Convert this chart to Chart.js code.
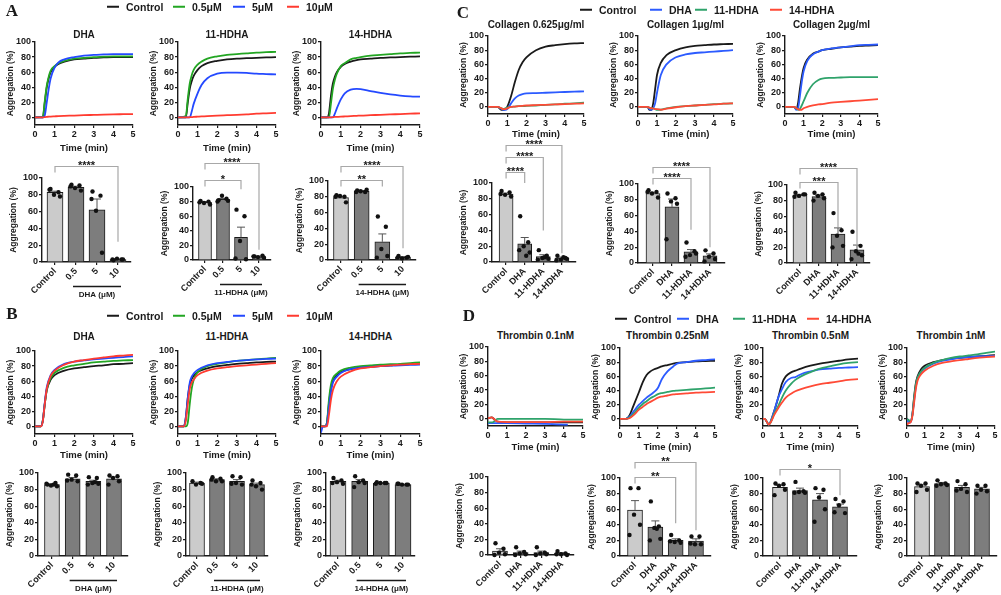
<!DOCTYPE html>
<html>
<head>
<meta charset="utf-8">
<title>Platelet aggregation</title>
<script src="https://cdn.jsdelivr.net/npm/chart.js@4.4.1/dist/chart.umd.min.js"></script>
<style>
  html, body { margin: 0; padding: 0; background: #fff; }
  #fig { position: relative; width: 1001px; height: 595px; overflow: hidden;
         font-family: Arial, "Liberation Sans", Helvetica, sans-serif; font-weight: bold; color: #1a1a1a; }
  #fig canvas { position: absolute; }
  .panel { position: absolute; font-family: "Times New Roman", "Liberation Serif", serif; font-size: 17px;
           line-height: 1; transform: translate(-50%, -50%); }
  .title { position: absolute; font-size: 10px; white-space: nowrap; line-height: 1; transform: translate(-50%, -50%); }
  .key { position: absolute; font-size: 10.5px; white-space: nowrap; line-height: 1; transform: translateY(-50%);
         display: flex; align-items: center; }
  .key i { display: inline-block; width: 12px; height: 2px; margin-right: 7px; }
</style>
</head>
<body>
<div id="fig"></div>
<script>
// ---------- ticks and categories ----------
const yTicks = [0, 20, 40, 60, 80, 100];
const timeTicks = [0, 1, 2, 3, 4, 5];
const doseCats = ['Control', '0.5', '5', '10'];
const drugCats = ['Control', 'DHA', '11-HDHA', '14-HDHA'];
const doseNames = ['Control', '0.5μM', '5μM', '10μM'];
const drugNames = ['Control', 'DHA', '11-HDHA', '14-HDHA'];

// ---------- A: traces ----------
const a1Time = [0, 0.4, 0.5, 0.6, 0.7, 0.8, 1, 1.2, 1.5, 2, 2.5, 3, 3.5, 4, 4.5, 5];
const a1Control = [0, 0, 20, 40, 52, 60, 67, 71, 74, 77, 78, 79, 79.5, 80, 80, 80];
const a1Low = [0, 1, 22, 42, 54, 62, 68, 72, 75, 78, 79, 80, 80.5, 81, 81, 81];
const a1Mid = [0, 0, 3, 20, 38, 52, 66, 73, 77, 80, 82, 83, 83.5, 84, 84, 84];
const a1High = [0, 0, 0.5, 0.8, 1, 1.2, 1.5, 1.8, 2.1, 2.5, 3, 3.4, 3.8, 4.1, 4.3, 4.5];

const a2Time = [0, 0.4, 0.5, 0.6, 0.7, 0.8, 1, 1.2, 1.5, 2, 2.5, 3, 3.5, 4, 4.5, 5];
const a2Control = [0, 0, 20, 38, 48, 55, 63, 68, 72, 75, 77, 78, 78.5, 79, 79.5, 80];
const a2Low = [0, 2, 25, 45, 56, 63, 70, 74, 78, 81, 83, 84, 85, 86, 86.5, 87];
const a2Mid = [0, 0, 0, 0, 8, 18, 32, 43, 52, 58, 59.5, 59.5, 59, 58, 57.5, 57];
const a2High = [0, 0, 0, 0.3, 0.5, 0.7, 1, 1.3, 1.8, 2.5, 3, 3.5, 4.2, 5, 5.5, 6];

const a3Time = [0, 0.3, 0.4, 0.5, 0.6, 0.7, 0.8, 1, 1.2, 1.5, 1.8, 2, 2.5, 3, 3.5, 4, 4.5, 5];
const a3Control = [0, 0, 5, 28, 45, 54, 60, 67, 71, 74, 76, 77, 78, 79, 79.5, 80, 80.5, 81];
const a3Low = [0, 0, 0, 18, 38, 50, 58, 68, 72, 77, 79, 80, 82, 83, 84, 85, 85.5, 86];
const a3Mid = [0, 0, 0, 0, 0, 5, 12, 24, 32, 37, 38, 37.5, 35, 32.5, 30.5, 29, 28, 27.5];
const a3High = [0, 0, 0, 0, 0.5, 0.7, 0.8, 1, 1.3, 1.8, 2.2, 2.5, 3, 3.5, 4, 4.5, 5, 5.5];

// ---------- A: bars ----------
const a1bMean = [83, 89, 62, 3];
const a1bSem = [1.3, 1.2, 13, 0.4];
const a1bDots = [[87, 83, 80, 78, 86], [92, 91, 88, 85, 90], [84, 79, 61, 11, 75], [2, 3, 4, 3, 3]];
const a1bSig = [[0, 3, '****']];

const a2bMean = [79, 83, 31, 4.5];
const a2bSem = [1, 1.3, 14, 0.6];
const a2bDots = [[81, 80, 78, 76, 79], [82, 84, 88, 81, 80], [69, 60, 26, 1, 2], [5, 6, 4, 3, 5]];
const a2bSig = [[0, 2, '*'], [0, 3, '****']];

const a3bMean = [79, 87, 23, 3.5];
const a3bSem = [1.5, 0.9, 10, 0.7];
const a3bDots = [[82, 80, 81, 73, 80], [88, 86, 87, 89, 86], [55, 42, 14, 5, 3], [5, 3, 2, 4, 3]];
const a3bSig = [[0, 2, '**'], [0, 3, '****']];

// ---------- B: traces ----------
const b1Time = [0, 0.3, 0.4, 0.5, 0.6, 0.8, 1, 1.5, 2, 2.5, 3, 3.5, 4, 4.5, 5];
const b1Control = [0, 0, 8, 30, 48, 62, 68, 74, 77, 78.5, 80, 81, 82.5, 83, 84];
const b1Low = [0, 0, 8, 30, 49, 64, 71, 78, 81, 83, 85, 86, 87, 87.5, 88];
const b1Mid = [0, 0, 8, 32, 52, 68, 75, 83, 86, 87.5, 89, 90, 91, 92, 93];
const b1High = [0, 0, 7, 30, 50, 67, 74, 82, 86, 88, 90, 91.5, 93, 94, 95];

const b2Time = [0, 0.3, 0.4, 0.5, 0.6, 0.7, 0.8, 1, 1.5, 2, 2.5, 3, 3.5, 4, 4.5, 5];
const b2Control = [0, 0, 12, 38, 55, 63, 67, 72, 77, 80, 81.5, 83, 84, 85, 85.5, 86];
const b2Low = [0, 0, 0, 5, 30, 50, 62, 72, 80, 83, 85, 87, 88, 89, 90, 91];
const b2Mid = [0, 0, 12, 38, 58, 66, 70, 75, 81, 84, 85.5, 87, 88, 89, 89.5, 90];
const b2High = [0, 0, 8, 30, 50, 58, 62, 68, 74, 77, 78.5, 80, 81, 82, 83, 84];

const b3Time = [0, 0.1, 0.2, 0.3, 0.4, 0.5, 0.6, 0.8, 1, 1.5, 2, 2.5, 3, 3.5, 4, 4.5, 5];
const b3Control = [0, 0, 0, 5, 30, 50, 60, 68, 72, 76, 78, 79, 80, 81, 82, 82.5, 83];
const b3Low = [0, 0, 0, 5, 35, 55, 64, 70, 74, 78, 80, 81, 82, 82.5, 83, 84, 85];
const b3Mid = [-8, 0, 0, 3, 25, 45, 58, 66, 71, 76, 78, 79, 80, 80.5, 81, 81.5, 82];
const b3High = [0, 0, 0, 0, 15, 35, 48, 60, 66, 73, 77, 78.5, 80, 81, 82, 82.5, 83];

// ---------- B: bars ----------
const b1bMean = [86, 93, 90, 93];
const b1bSem = [0.7, 1.6, 1.3, 2];
const b1bDots = [[86, 88, 85, 84, 87, 86], [98, 97, 92, 90, 91], [95, 94, 88, 87, 86, 89], [97, 96, 94, 90, 86]];

const b2bMean = [88, 92, 90, 86];
const b2bSem = [1, 1, 2, 1.8];
const b2bDots = [[90, 88, 86, 87], [95, 93, 90, 90, 92], [96, 95, 88, 86, 87], [91, 88, 84, 80, 86]];

const b3bMean = [90, 90, 88, 86];
const b3bSem = [1.3, 2, 0.4, 0.3];
const b3bDots = [[94, 91, 89, 87, 88], [96, 91, 89, 88, 83], [89, 88, 88, 88, 87], [87, 86, 86, 86, 87]];

// ---------- C: traces ----------
const c1Time = [0, 0.5, 0.7, 0.8, 0.9, 1, 1.2, 1.4, 1.6, 1.8, 2, 2.5, 3, 3.5, 4, 4.5, 5];
const c1Control = [0, 0, -4, -4, -3, 0, 15, 35, 52, 63, 70, 80, 85, 87, 88.5, 89.5, 90];
const c1Dha = [0, 0, -3, -4, -4, -3, 5, 12, 16, 18, 19, 19.5, 20, 20.5, 21, 21.5, 22];
const c1Hdha11 = [0, 0, -2, -3, -2, -1, 0, 0.5, 1, 1, 1.5, 2, 3, 3.5, 4.5, 5, 6];
const c1Hdha14 = [0, 0, -2, -3, -3, -2, 0, 0.5, 1, 1.5, 2, 2.5, 3, 3.5, 4, 4.5, 5];

const c2Time = [0, 0.5, 0.6, 0.7, 0.8, 0.9, 1, 1.2, 1.5, 2, 2.5, 3, 3.5, 4, 4.5, 5];
const c2Control = [0, 0, -4, -4, 5, 25, 45, 62, 73, 80, 84, 86, 87, 88, 88.5, 89];
const c2Dha = [0, 0, -3, -4, -2, 5, 20, 45, 60, 70, 74, 76, 77, 78, 79, 80];
const c2Hdha11 = [0, 0, -1, -2, -2, -3, -4, -4, -2, 0, 1, 2, 3, 4, 4.5, 5];
const c2Hdha14 = [0, 0, -1, -2, -2, -3, -3, -4, -2.5, -0.5, 1, 2, 3, 3.5, 4.5, 5];

const c3Time = [0, 0.5, 0.6, 0.7, 0.8, 0.9, 1, 1.2, 1.5, 1.8, 2, 2.5, 3, 3.5, 4, 4.5, 5];
const c3Control = [0, 0, -3, 5, 25, 42, 55, 67, 75, 78, 80, 82, 84, 85, 86, 86.5, 87];
const c3Dha = [0, 0, -4, -2, 15, 35, 50, 65, 74, 78, 80, 82.5, 84, 85.5, 87, 87.5, 88];
const c3Hdha11 = [0, 0, -2, -4, -3, 2, 8, 20, 32, 38, 40, 41, 41.5, 42, 42, 42, 42];
const c3Hdha14 = [0, 0, -2, -3, -4, -4, -2, 0, 2, 3.5, 4, 6, 7, 8, 9, 10, 11];

// ---------- C: bars ----------
const c1bMean = [86, 23, 7, 5];
const c1bSem = [1.3, 8, 2.2, 1.2];
const c1bDots = [[90, 88, 85, 83, 86], [58, 25, 20, 12, 15, 8], [15, 8, 5, 4, 3, 6], [8, 5, 3, 4, 2, 6]];
const c1bSig = [[0, 1, '****'], [0, 2, '****'], [0, 3, '****']];

const c2bMean = [88, 71, 14, 9];
const c2bSem = [1.5, 10, 3, 2.5];
const c2bDots = [[92, 90, 88, 83, 90], [88, 82, 78, 75, 30], [26, 15, 10, 12, 8], [16, 12, 8, 5, 2]];
const c2bSig = [[0, 2, '****'], [0, 3, '****']];

const c3bMean = [87, 85, 37, 17];
const c3bSem = [1, 1.8, 8, 6];
const c3bDots = [[90, 88, 86, 88, 85], [90, 88, 86, 83, 80], [64, 42, 35, 22, 20], [40, 22, 15, 10, 5, 12]];
const c3bSig = [[0, 2, '***'], [0, 3, '****']];

// ---------- D: traces ----------
const d1Time = [0, 0.2, 0.3, 0.5, 1, 2, 3, 4, 4.2, 5];
const d1Control = [1, 2, 0, -4, -5, -5, -5, -5, -5, -5];
const d1Dha = [-6, -6, -6, -6, -6, -6.5, -7, -8, -8, null];
const d1Hdha11 = [-5, -5, -4, 0, 0, 0, 0, -1, -1, -1];
const d1Hdha14 = [1, 2, 0, -4, -4.5, -4.5, -4.5, -4, -4, -4];

const d2Time = [0, 0.3, 0.5, 0.7, 1, 1.2, 1.4, 1.6, 1.8, 2, 2.2, 2.5, 2.8, 3, 3.5, 4, 4.5, 5];
const d2Control = [0, 0, 5, 18, 38, 52, 62, 67, 70, 72, 74, 76, 78, 79, 80, 81, 81.5, 82];
const d2Dha = [0, 0, 3, 10, 20, 25, 30, 34, 38, 44, 56, 67, 74, 78, 80, 82, 83, 84];
const d2Hdha11 = [0, 0, 2, 7, 16, 21, 25, 29, 32, 35, 36.5, 38, 39.5, 40, 41, 42, 43, 44];
const d2Hdha14 = [0, 0, 1, 5, 13, 17, 21, 24, 27, 30, 31.5, 33, 34.5, 35, 36, 37, 37.5, 38];

const d3Time = [0, 0.1, 0.2, 0.3, 0.4, 0.6, 0.8, 1, 1.2, 1.5, 1.7, 2, 2.5, 3, 3.5, 4, 4.5, 5];
const d3Control = [0, 0, -4, -8, -4, 12, 30, 50, 60, 66, 68, 71, 75, 78, 80, 82, 84, 85];
const d3Dha = [0, 0, -4, -8, -4, 12, 30, 42, 52, 58, 59, 63, 67, 70, 71, 72, 72.5, 73];
const d3Hdha11 = [0, 0, -4, -8, -5, 8, 18, 30, 40, 50, 55, 60, 66, 71, 74, 77, 79, 80];
const d3Hdha14 = [0, 0, -4, -8, -5, 6, 15, 23, 30, 36, 39, 42, 46, 49, 51, 53, 55, 56];

const d4Time = [0, 0.1, 0.2, 0.3, 0.4, 0.5, 0.6, 0.8, 1, 1.5, 2, 2.5, 3, 3.5, 4, 4.5, 5];
const d4Control = [0, -2, -4, 5, 30, 50, 60, 70, 75, 80, 83, 85, 86, 87, 88, 89, 90];
const d4Dha = [0, -5, -5, 5, 25, 45, 57, 66, 71, 78, 82, 84, 86, 87, 88, 88.5, 89];
const d4Hdha11 = [0, -2, -3, 5, 28, 48, 58, 67, 72, 79, 83, 86, 88, 89.5, 91, 93, 95];
const d4Hdha14 = [-8, -6, -5, 3, 22, 42, 54, 63, 68, 75, 79, 81, 83, 84.5, 86, 87, 88];

// ---------- D: bars ----------
const d1bMean = [5, 3, 3, 2];
const d1bSem = [3, 2, 2, 1];
const d1bDots = [[15, 8, 3, 1, 0], [10, 4, 2, 1, 0], [10, 3, 2, 1, 0], [5, 2, 1, 0, 1]];

const d2bMean = [59, 37, 20, 19];
const d2bSem = [12, 8, 2, 3];
const d2bDots = [[87, 87, 53, 40, 27], [70, 38, 36, 22, 20, 35], [27, 20, 18, 17, 19], [25, 25, 15, 15, 16]];
const d2bSig = [[0, 2, '**'], [0, 3, '**']];

const d3bMean = [88, 84, 72, 63];
const d3bSem = [2.7, 3, 8, 3.5];
const d3bDots = [[93, 92, 90, 85, 78], [95, 83, 82, 81, 81], [87, 85, 75, 60, 44], [73, 70, 65, 55, 56]];
const d3bSig = [[0, 3, '*']];

const d4bMean = [89, 93, 88, 86];
const d4bSem = [2.2, 1.3, 2.5, 2];
const d4bDots = [[93, 93, 90, 85, 82], [97, 93, 92, 91, 90], [96, 92, 86, 82, 84], [90, 90, 85, 83, 80]];

// ---------- styles ----------
const FONT = 'Arial, "Liberation Sans", Helvetica, sans-serif';
const INK = '#1a1a1a';
const doseColors = ['#1a1a1a', '#23a623', '#2449ff', '#ff3b30'];
const drugColors = ['#1a1a1a', '#2c5bff', '#2fa36b', '#ff4a36'];
const lightBar = '#cbcbcb';
const darkBar = '#7d7d7d';
const jitter = [-4.5, 3.5, -1, 5, -5.5, 1.5];

const fig = document.getElementById('fig');

function tickFont(size) {
  return { family: FONT, size: size, weight: 'bold' };
}

function addCanvas(x, y, w, h) {
  const c = document.createElement('canvas');
  c.width = w;
  c.height = h;
  c.style.left = x + 'px';
  c.style.top = y + 'px';
  c.style.width = w + 'px';
  c.style.height = h + 'px';
  fig.appendChild(c);
  return c;
}

function addText(cls, text, x, y) {
  const d = document.createElement('div');
  d.className = cls;
  d.textContent = text;
  d.style.left = x + 'px';
  d.style.top = y + 'px';
  fig.appendChild(d);
}

function addKey(y, xs, names, colors) {
  names.forEach((n, i) => {
    const d = document.createElement('div');
    d.className = 'key';
    d.style.left = xs[i] + 'px';
    d.style.top = y + 'px';
    d.innerHTML = '<i style="background:' + colors[i] + '"></i>' + n;
    fig.appendChild(d);
  });
}

function yAxis(min, padL) {
  return {
    min: min,
    max: 100,
    afterBuildTicks: s => { s.ticks = yTicks.map(v => ({ value: v })); },
    afterFit: s => { s.width = padL; s.paddingTop = 0; s.paddingBottom = 0; },
    grid: { drawOnChartArea: false, tickLength: 3, color: INK, lineWidth: 1.2 },
    border: { color: INK, width: 1.4 },
    ticks: { color: INK, font: tickFont(9), padding: 1 },
    title: { display: true, text: 'Aggregation (%)', color: INK, font: tickFont(8.5), padding: { top: 0, bottom: 0 } }
  };
}

// time-course panel: box = [y-axis x, x=5 x, y of 100, y of 0]
function drawLine(cfg) {
  const [l, r, y100, y0] = cfg.box;
  const unit = (y0 - y100) / 100;
  const PL = 29, PR = 6, PT = 6, PB = cfg.pb;
  const plotH = Math.round(unit * 110);
  const cv = addCanvas(l - PL, y100 - PT, r - l + PL + PR, plotH + PT + PB);
  new Chart(cv, {
    type: 'line',
    data: {
      datasets: cfg.series.map((vals, i) => ({
        data: cfg.time.map((t, k) => ({ x: t, y: vals[k] })).filter(p => p.y !== null),
        borderColor: cfg.colors[i],
        borderWidth: 1.8,
        pointRadius: 0,
        cubicInterpolationMode: 'monotone',
        fill: false,
        order: cfg.series.length - i
      }))
    },
    options: {
      responsive: false,
      animation: false,
      events: [],
      layout: { padding: { top: PT, right: PR, left: 0, bottom: 0 } },
      plugins: { legend: { display: false }, tooltip: { enabled: false } },
      scales: {
        x: {
          type: 'linear',
          min: 0,
          max: 5,
          afterBuildTicks: s => { s.ticks = timeTicks.map(v => ({ value: v })); },
          afterFit: s => { s.height = PB; s.paddingLeft = 0; s.paddingRight = 0; },
          grid: { drawOnChartArea: false, tickLength: 3, color: INK, lineWidth: 1.2 },
          border: { color: INK, width: 1.4 },
          ticks: { color: INK, font: tickFont(9), padding: 1, maxRotation: 0, autoSkip: false },
          title: { display: true, text: 'Time (min)', color: INK, font: tickFont(9.5), padding: 0 }
        },
        y: yAxis(-10, PL)
      }
    }
  });
  addText('title', cfg.title, (l + r) / 2, cfg.ty);
}

// mean ± SEM bars: box = [y-axis x, first bar x, bar spacing, y of 100, y of 0]
function drawBars(cfg) {
  const [ax, c0, step, y100, y0] = cfg.box;
  const gap = (c0 - ax) / step;
  const PL = 33, PR = 8, PT = 60, PB = 46;
  const w = Math.round((3 + 2 * gap) * step);
  const cv = addCanvas(ax - PL, y100 - PT, w + PL + PR, (y0 - y100) + PT + PB);
  const barW = Math.round(step * 0.74);
  const sig = cfg.sig || [];

  const deco = {
    id: 'deco',
    afterDatasetsDraw(chart) {
      const xs = chart.scales.x, ys = chart.scales.y, ctx = chart.ctx;
      ctx.save();
      cfg.mean.forEach((m, i) => {
        const x = xs.getPixelForValue(i);
        const base = ys.getPixelForValue(m);
        const top = ys.getPixelForValue(m + cfg.sem[i]);
        ctx.strokeStyle = '#555';
        ctx.lineWidth = 1;
        ctx.beginPath();
        ctx.moveTo(x, base);
        ctx.lineTo(x, top);
        ctx.moveTo(x - 4, top);
        ctx.lineTo(x + 4, top);
        ctx.stroke();
        ctx.fillStyle = '#111';
        cfg.dots[i].forEach((v, k) => {
          ctx.beginPath();
          ctx.arc(x + jitter[k], ys.getPixelForValue(v), 2.2, 0, Math.PI * 2);
          ctx.fill();
        });
      });
      ctx.restore();
    },
    afterDraw(chart) {
      const xs = chart.scales.x, ys = chart.scales.y, ctx = chart.ctx;
      ctx.save();
      // significance brackets
      sig.forEach(([a, b, stars], n) => {
        const [level, legEnd] = cfg.brk[n];
        const x1 = xs.getPixelForValue(a), x2 = xs.getPixelForValue(b);
        const yl = Math.round(ys.getPixelForValue(level)) + 0.5;
        ctx.strokeStyle = '#a8a8a8';
        ctx.lineWidth = 1.2;
        ctx.beginPath();
        ctx.moveTo(x1, yl + 6);
        ctx.lineTo(x1, yl);
        ctx.lineTo(x2, yl);
        ctx.lineTo(x2, ys.getPixelForValue(legEnd));
        ctx.stroke();
        ctx.fillStyle = INK;
        ctx.font = 'bold 11px ' + FONT;
        ctx.textAlign = 'center';
        ctx.textBaseline = 'alphabetic';
        ctx.fillText(stars, (x1 + x2) / 2, yl + 2);
      });
      // dose group underline
      if (cfg.group) {
        const xa = xs.getPixelForValue(1) - 3, xb = xs.getPixelForValue(3) + 3;
        const yb = Math.round(ys.getPixelForValue(0)) + 24.5;
        ctx.strokeStyle = INK;
        ctx.lineWidth = 1.3;
        ctx.beginPath();
        ctx.moveTo(xa, yb);
        ctx.lineTo(xb, yb);
        ctx.stroke();
        ctx.fillStyle = INK;
        ctx.font = 'bold 8px ' + FONT;
        ctx.textAlign = 'center';
        ctx.textBaseline = 'middle';
        ctx.fillText(cfg.group, (xa + xb) / 2, yb + 8);
      }
      ctx.restore();
    }
  };

  new Chart(cv, {
    type: 'bar',
    data: {
      datasets: [{
        data: cfg.mean.map((m, i) => ({ x: i, y: m })),
        backgroundColor: cfg.mean.map((m, i) => (i === 0 ? lightBar : darkBar)),
        borderColor: INK,
        borderWidth: 1,
        barThickness: barW
      }]
    },
    options: {
      responsive: false,
      animation: false,
      events: [],
      layout: { padding: { top: PT, right: PR, left: 0, bottom: 0 } },
      plugins: { legend: { display: false }, tooltip: { enabled: false } },
      scales: {
        x: {
          type: 'linear',
          offset: false,
          min: -gap,
          max: 3 + gap,
          afterBuildTicks: s => { s.ticks = cfg.cats.map((c, i) => ({ value: i })); },
          afterFit: s => { s.height = PB; s.paddingLeft = 0; s.paddingRight = 0; },
          grid: { offset: false, drawOnChartArea: false, tickLength: 3, color: INK, lineWidth: 1.2 },
          border: { color: INK, width: 1.4 },
          ticks: { color: INK, font: tickFont(9), padding: 1, minRotation: 45, maxRotation: 45, autoSkip: false,
                   callback: v => cfg.cats[v] }
        },
        y: yAxis(0, PL)
      }
    },
    plugins: [deco]
  });
}

// ---------- layout ----------
const lineCharts = [
  { title: 'DHA', ty: 35, pb: 29, box: [35, 133, 42, 117], time: a1Time, series: [a1Control, a1Low, a1Mid, a1High], colors: doseColors },
  { title: '11-HDHA', ty: 35, pb: 29, box: [178, 276, 42, 117], time: a2Time, series: [a2Control, a2Low, a2Mid, a2High], colors: doseColors },
  { title: '14-HDHA', ty: 35, pb: 29, box: [321, 420, 42, 117], time: a3Time, series: [a3Control, a3Low, a3Mid, a3High], colors: doseColors },
  { title: 'DHA', ty: 337, pb: 27, box: [35, 133, 351, 426], time: b1Time, series: [b1Control, b1Low, b1Mid, b1High], colors: doseColors },
  { title: '11-HDHA', ty: 337, pb: 27, box: [178, 276, 351, 426], time: b2Time, series: [b2Control, b2Low, b2Mid, b2High], colors: doseColors },
  { title: '14-HDHA', ty: 337, pb: 27, box: [321, 420, 351, 426], time: b3Time, series: [b3Control, b3Low, b3Mid, b3High], colors: doseColors },
  { title: 'Collagen 0.625μg/ml', ty: 25, pb: 26, box: [488, 584, 36, 107], time: c1Time, series: [c1Control, c1Dha, c1Hdha11, c1Hdha14], colors: drugColors },
  { title: 'Collagen 1μg/ml', ty: 25, pb: 26, box: [638, 733, 36, 107], time: c2Time, series: [c2Control, c2Dha, c2Hdha11, c2Hdha14], colors: drugColors },
  { title: 'Collagen 2μg/ml', ty: 25, pb: 26, box: [785, 878, 36, 107], time: c3Time, series: [c3Control, c3Dha, c3Hdha11, c3Hdha14], colors: drugColors },
  { title: 'Thrombin 0.1nM', ty: 336, pb: 27, box: [488, 583, 347, 419], time: d1Time, series: [d1Control, d1Dha, d1Hdha11, d1Hdha14], colors: drugColors },
  { title: 'Thrombin 0.25nM', ty: 336, pb: 27, box: [620, 715, 348, 419], time: d2Time, series: [d2Control, d2Dha, d2Hdha11, d2Hdha14], colors: drugColors },
  { title: 'Thrombin 0.5nM', ty: 336, pb: 27, box: [763, 858, 348, 419], time: d3Time, series: [d3Control, d3Dha, d3Hdha11, d3Hdha14], colors: drugColors },
  { title: 'Thrombin 1nM', ty: 336, pb: 27, box: [907, 995, 348, 419], time: d4Time, series: [d4Control, d4Dha, d4Hdha11, d4Hdha14], colors: drugColors }
];

const barCharts = [
  { box: [42, 55, 21, 178, 262], cats: doseCats, mean: a1bMean, sem: a1bSem, dots: a1bDots, sig: a1bSig, brk: [[114, 24]], group: 'DHA (μM)' },
  { box: [193, 205, 18, 187, 260], cats: doseCats, mean: a2bMean, sem: a2bSem, dots: a2bDots, sig: a2bSig, brk: [[110, 97], [133, 14]], group: '11-HDHA (μM)' },
  { box: [328, 341, 20.7, 181, 260], cats: doseCats, mean: a3bMean, sem: a3bSem, dots: a3bDots, sig: a3bSig, brk: [[101, 93], [119, 15]], group: '14-HDHA (μM)' },
  { box: [38, 52, 20.7, 473, 556], cats: doseCats, mean: b1bMean, sem: b1bSem, dots: b1bDots, group: 'DHA (μM)' },
  { box: [186, 197, 20, 473, 556], cats: doseCats, mean: b2bMean, sem: b2bSem, dots: b2bDots, group: '11-HDHA (μM)' },
  { box: [326, 338, 21.7, 473, 556], cats: doseCats, mean: b3bMean, sem: b3bSem, dots: b3bDots, group: '14-HDHA (μM)' },
  { box: [492, 506, 18.5, 183, 262], cats: drugCats, mean: c1bMean, sem: c1bSem, dots: c1bDots, sig: c1bSig, brk: [[114, 100], [133, 40], [148, 11]] },
  { box: [638, 653, 19, 184, 263], cats: drugCats, mean: c2bMean, sem: c2bSem, dots: c2bDots, sig: c2bSig, brk: [[108, 42], [122, 20]] },
  { box: [787, 800, 19, 185, 263], cats: drugCats, mean: c3bMean, sem: c3bSem, dots: c3bDots, sig: c3bSig, brk: [[104, 46], [122, 21]] },
  { box: [488, 500, 20.7, 477, 555], cats: drugCats, mean: d1bMean, sem: d1bSem, dots: d1bDots },
  { box: [620, 635, 20.3, 478, 556], cats: drugCats, mean: d2bMean, sem: d2bSem, dots: d2bDots, sig: d2bSig, brk: [[101, 42], [121, 33]] },
  { box: [763, 780, 20, 478, 556], cats: drugCats, mean: d3bMean, sem: d3bSem, dots: d3bDots, sig: d3bSig, brk: [[111, 78]] },
  { box: [907, 922, 20, 478, 556], cats: drugCats, mean: d4bMean, sem: d4bSem, dots: d4bDots }
];

lineCharts.forEach(drawLine);
barCharts.forEach(drawBars);

// panel letters and legends
addText('panel', 'A', 12, 10);
addText('panel', 'B', 12, 313);
addText('panel', 'C', 463, 12);
addText('panel', 'D', 469, 315);
addKey(7, [107, 173, 233, 287], doseNames, doseColors);
addKey(316, [107, 173, 233, 287], doseNames, doseColors);
addKey(10, [580, 650, 695, 770], drugNames, drugColors);
addKey(319, [615, 677, 733, 807], drugNames, drugColors);
</script>
</body>
</html>
